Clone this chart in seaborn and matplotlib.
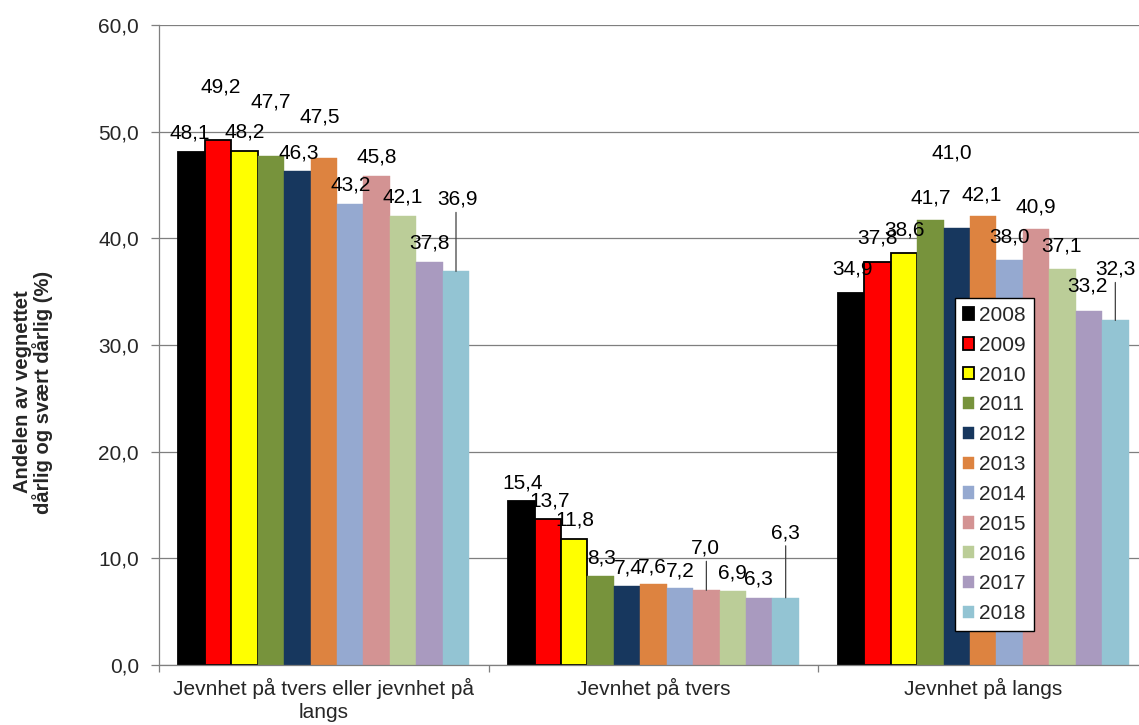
import matplotlib
matplotlib.use("Agg")
import matplotlib.pyplot as plt
import matplotlib.patches as mpatches
import seaborn as sns
import pandas as pd

# ---- data ----
categories = ["Jevnhet på tvers eller jevnhet på\nlangs", "Jevnhet på tvers", "Jevnhet på langs"]
years = ["2008", "2009", "2010", "2011", "2012", "2013", "2014", "2015", "2016", "2017", "2018"]
vals_begge = [48.1, 49.2, 48.2, 47.7, 46.3, 47.5, 43.2, 45.8, 42.1, 37.8, 36.9]
vals_tvers = [15.4, 13.7, 11.8, 8.3, 7.4, 7.6, 7.2, 7.0, 6.9, 6.3, 6.3]
vals_langs = [34.9, 37.8, 38.6, 41.7, 41.0, 42.1, 38.0, 40.9, 37.1, 33.2, 32.3]
y_ticks = [0, 10, 20, 30, 40, 50, 60]
y_label = "Andelen av vegnettet\ndårlig og svært dårlig (%)"

# ---- styles / label placement (pixels above bar top) ----
colors = ["#000000", "#FF0000", "#FFFF00", "#77933C", "#17375E", "#DD8340",
          "#95A9D0", "#D39393", "#BBCD98", "#A99ABF", "#93C4D3"]
edge_years = {"2008", "2009", "2010"}
label_dy = [
    [19, 53, 19, 54, 18, 41, 19, 19, 19, 19, 72],
    [18, 18, 19, 18, 18, 17, 17, 42, 18, 19, 65],
    [24, 24, 23, 22, 75, 21, 23, 22, 23, 25, 51],
]
label_dx = [
    [-2, 3, 0, 0, 1, -4, 0, 0, 0, 0, 2],
    [1, 2, 1, 1, 1, -1, 0, -1, 0, -1, 0],
    [1, 0, 1, 0, -5, -1, 0, 0, -1, -1, 0],
]
leaders = {(0, 10), (1, 7), (1, 10), (2, 10)}
FS = 15

sns.set_theme(style="white")
plt.rcParams["font.family"] = ["Liberation Sans", "DejaVu Sans"]

rows = []
for cat, vals in zip(categories, [vals_begge, vals_tvers, vals_langs]):
    for yr, v in zip(years, vals):
        rows.append({"kategori": cat, "år": yr, "verdi": v})
df = pd.DataFrame(rows)

fig = plt.figure(figsize=(11.39, 7.25), dpi=100)
W, H = 1139, 725
ax = fig.add_axes([159 / W, (H - 665) / H, 989 / W, 640 / H])

sns.barplot(data=df, x="kategori", y="verdi", hue="år", hue_order=years,
            order=categories, palette=dict(zip(years, colors)),
            width=0.882, errorbar=None, ax=ax, legend=False, saturation=1)

PX = 0.72  # points per pixel at dpi 100
for j, (yr, cont) in enumerate(zip(years, ax.containers)):
    for i, bar in enumerate(cont.patches):
        if yr in edge_years:
            bar.set_edgecolor("black")
            bar.set_linewidth(1.3)
        else:
            bar.set_edgecolor(bar.get_facecolor())
            bar.set_linewidth(0.3)
        cx = bar.get_x() + bar.get_width() / 2
        h = bar.get_height()
        dy = label_dy[i][j] * PX
        dx = label_dx[i][j] * PX
        txt = f"{h:.1f}".replace(".", ",")
        ax.annotate(txt, xy=(cx, h), xytext=(dx, dy), textcoords="offset points",
                    ha="center", va="center", fontsize=FS, color="black", zorder=5)
        if (i, j) in leaders:
            ax.annotate("", xy=(cx, h), xytext=(0, dy - 13 * PX), textcoords="offset points",
                        arrowprops=dict(arrowstyle="-", color="#404040", lw=0.9,
                                        shrinkA=0, shrinkB=0), zorder=5)

ax.set_ylim(0, 60)
ax.set_yticks(y_ticks)
ax.set_yticklabels([f"{t:.1f}".replace(".", ",") for t in y_ticks], fontsize=FS)
ax.yaxis.grid(True, color="#7F7F7F", linewidth=0.9)
ax.set_axisbelow(True)

ax.set_xlim(-0.5, 2.5)
ax.set_xticks([-0.5, 0.5, 1.5, 2.5])
ax.set_xticklabels([])
ax.set_xticks([0, 1, 2], minor=True)
ax.set_xticklabels(categories, minor=True, fontsize=FS, linespacing=1.3)
ax.tick_params(axis="x", which="major", length=5, width=0.9, color="#7F7F7F", direction="out", bottom=True)
ax.tick_params(axis="x", which="minor", length=0, pad=9)
ax.tick_params(axis="y", length=6, width=0.9, color="#7F7F7F", direction="out", left=True, pad=8.4)
ax.set_xlabel("")
ax.set_ylabel("")

for side in ["top", "right"]:
    ax.spines[side].set_visible(False)
for side in ["left", "bottom"]:
    ax.spines[side].set_visible(True)
    ax.spines[side].set_color("#7F7F7F")
    ax.spines[side].set_linewidth(0.9)

fig.text(33 / W, 1 - 392 / H, y_label, rotation=90, ha="center", va="center",
         fontsize=14.5, fontweight="bold", multialignment="center", linespacing=1.05)

handles = []
for yr, c in zip(years, colors):
    handles.append(mpatches.Patch(facecolor=c,
                                  edgecolor="black" if yr in edge_years else c,
                                  linewidth=1.3 if yr in edge_years else 0.3, label=yr))
leg = ax.legend(handles=handles, loc="upper left", bbox_to_anchor=(955 / W, 1 - 298 / H),
                bbox_transform=fig.transFigure, borderaxespad=0, frameon=True, fancybox=False,
                fontsize=FS, handlelength=0.53, handleheight=0.53, handletextpad=0.25,
                labelspacing=0.52, borderpad=0.38)
leg.get_frame().set_edgecolor("black")
leg.get_frame().set_linewidth(1.0)
leg.get_frame().set_facecolor("white")
leg.get_frame().set_alpha(1)
leg.set_zorder(10)

fig.savefig("out.png", dpi=100)
